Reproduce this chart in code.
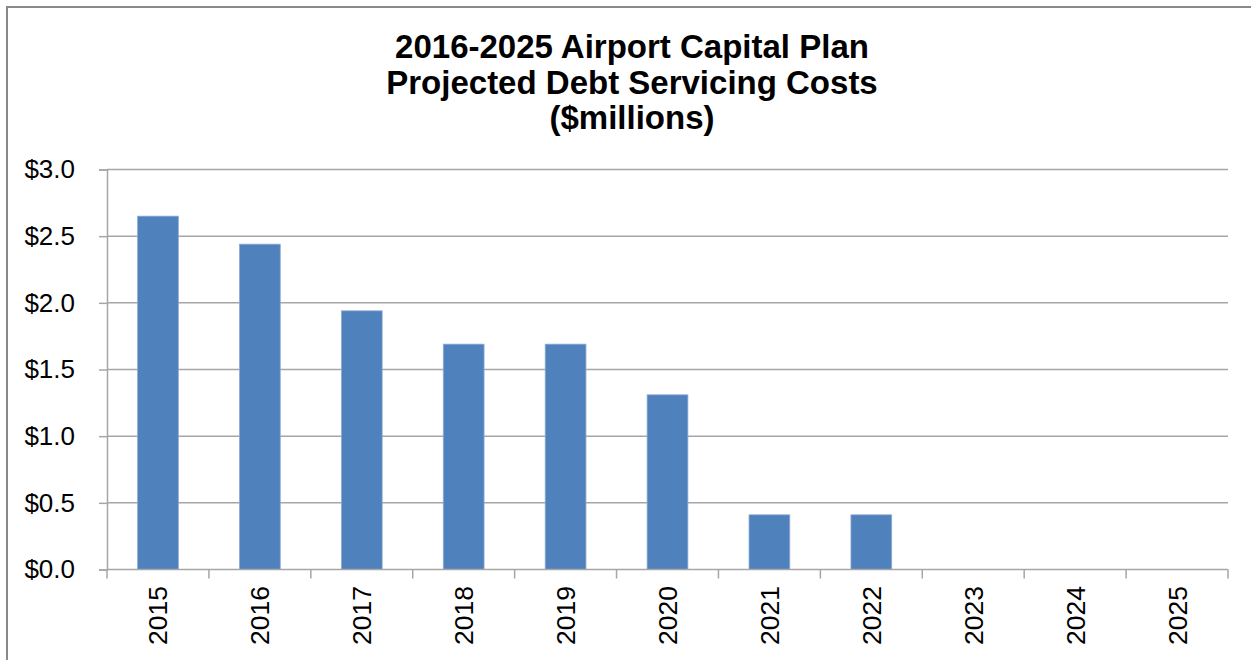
<!DOCTYPE html>
<html>
<head>
<meta charset="utf-8">
<script src="https://cdn.jsdelivr.net/npm/d3@7"></script>
<style>
  body { margin: 0; background: #fff; }
  svg { display: block; font-family: "Liberation Sans", Arial, sans-serif; }
</style>
</head>
<body>
<div id="chart"></div>
<script>
const years = ["2015", "2016", "2017", "2018", "2019", "2020", "2021", "2022", "2023", "2024", "2025"]
const costs = [2.65, 2.44, 1.94, 1.69, 1.69, 1.31, 0.41, 0.41, 0, 0, 0]
const yTicks = [0, 0.5, 1.0, 1.5, 2.0, 2.5, 3.0]
const titleLines = ["2016-2025 Airport Capital Plan", "Projected Debt Servicing Costs", "($millions)"]

const width = 1251
const height = 660
const margin = { top: 169.5, right: 23, bottom: 90.5, left: 107 }

const svg = d3
  .select("#chart")
  .append("svg")
  .attr("width", width)
  .attr("height", height)

// outer frame (only left/top edges are inside the picture)
svg
  .append("path")
  .attr("d", `M7,${height} V7 H${width}`)
  .attr("fill", "none")
  .attr("stroke", "#898989")
  .attr("stroke-width", 2)

svg
  .append("g")
  .selectAll("text")
  .data(titleLines)
  .join("text")
  .attr("x", 632)
  .attr("y", (d, i) => 58 + i * 35.5)
  .attr("text-anchor", "middle")
  .attr("font-size", 33)
  .attr("font-weight", "bold")
  .attr("fill", "#000")
  .text((d) => d)

const x = d3
  .scaleBand()
  .domain(years)
  .range([margin.left, width - margin.right])
  .paddingInner(0.6)
  .paddingOuter(0.3)

const y = d3
  .scaleLinear()
  .domain([0, 3])
  .range([height - margin.bottom, margin.top])

// gridlines
svg
  .append("g")
  .selectAll("line")
  .data(yTicks.filter((d) => d > 0))
  .join("line")
  .attr("x1", margin.left)
  .attr("x2", width - margin.right)
  .attr("y1", (d) => y(d))
  .attr("y2", (d) => y(d))
  .attr("stroke", "#a6a6a6")
  .attr("stroke-width", 1.5)

// bars
svg
  .append("g")
  .selectAll("rect")
  .data(costs)
  .join("rect")
  .attr("x", (d, i) => x(years[i]))
  .attr("width", x.bandwidth())
  .attr("y", (d) => y(d))
  .attr("height", (d) => y(0) - y(d))
  .attr("fill", "#4f81bd")
  .attr("stroke", (d) => (d > 0 ? "#8eaad6" : "none"))
  .attr("stroke-width", 0.8)

// y axis
const yAxis = svg
  .append("g")
  .attr("transform", `translate(${margin.left},0)`)
  .call(
    d3
      .axisLeft(y)
      .tickValues(yTicks)
      .tickSize(8)
      .tickPadding(24)
      .tickFormat((d) => "$" + d3.format(".1f")(d))
  )
yAxis.select(".domain").attr("stroke", "#a6a6a6").attr("stroke-width", 1.5)
yAxis.selectAll(".tick line").attr("stroke", "#a6a6a6").attr("stroke-width", 1.5)
yAxis
  .selectAll(".tick text")
  .attr("font-size", 26)
  .attr("fill", "#000")
  .attr("font-family", "Liberation Sans, Arial, sans-serif")

// x axis: ticks at category boundaries
const step = x.step()
const xBase = svg.append("g").attr("transform", `translate(0,${y(0)})`)
xBase
  .append("line")
  .attr("x1", margin.left)
  .attr("x2", width - margin.right)
  .attr("stroke", "#a6a6a6")
  .attr("stroke-width", 1.5)
xBase
  .selectAll("line.tk")
  .data(d3.range(years.length + 1))
  .join("line")
  .attr("class", "tk")
  .attr("x1", (i) => margin.left + i * step)
  .attr("x2", (i) => margin.left + i * step)
  .attr("y1", 0)
  .attr("y2", 9)
  .attr("stroke", "#a6a6a6")
  .attr("stroke-width", 1.5)
xBase
  .selectAll("text")
  .data(years)
  .join("text")
  .attr("transform", (d) => `translate(${x(d) + x.bandwidth() / 2 + 9.5},16.5) rotate(-90)`)
  .attr("text-anchor", "end")
  .attr("font-size", 26.5)
  .attr("fill", "#000")
  .text((d) => d)
</script>
</body>
</html>
